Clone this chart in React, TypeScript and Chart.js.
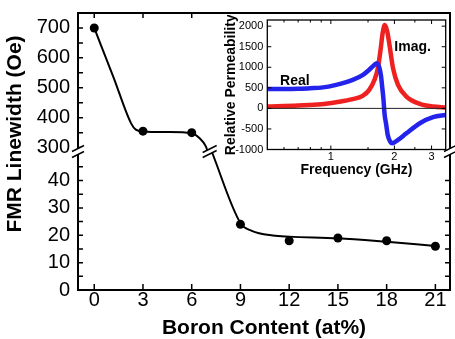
import React, { useEffect, useRef } from "react";
import { Chart, registerables } from "chart.js";

Chart.register(...registerables);

const FONT = "'Liberation Sans', Arial, Helvetica, sans-serif";

// ---- Main chart data ----
const boronContent = [0, 3, 6, 9, 12, 15, 18, 21];
const fmrLinewidth = [700, 355, 350, 24, 18, 19, 18, 16];
// fitted guide curve, upper (300-700 Oe) and lower (0-50 Oe) panels
const fitUpperX = [0, 1.18, 2.26, 2.56, 3, 4.5, 6, 6.47, 6.87, 6.98];
const fitUpperY = [700, 536, 382, 360, 354, 352, 348, 332, 304, 287];
const fitLowerX = [7.23, 9, 9.7, 11, 12, 15, 18, 21];
const fitLowerY = [50.6, 24.5, 21.6, 19.9, 19.5, 18.9, 17.6, 16.1];
const boronTicks = [0, 3, 6, 9, 12, 15, 18, 21];
const upperTicks = [300, 400, 500, 600, 700];
const lowerTicks = [0, 10, 20, 30, 40];
const upperMin = 287;
const upperMax = 750;
const lowerMin = 0;
const lowerMax = 50.6;

// ---- Inset data (relative permeability vs frequency) ----
const freqReal = [0.5, 0.6, 0.7, 0.8, 0.9, 1.06, 1.27, 1.42, 1.52, 1.61, 1.65, 1.7, 1.73, 1.75, 1.776, 1.795, 1.83, 1.86, 1.91, 1.95, 2.08, 2.28, 2.64, 3.05, 3.5];
const permReal = [470, 470, 475, 490, 505, 573, 695, 817, 939, 1061, 1100, 980, 776, 532, 207, -118, -402, -646, -809, -849, -768, -605, -361, -215, -159];
const freqImag = [0.5, 0.7, 0.9, 1.06, 1.27, 1.415, 1.52, 1.61, 1.67, 1.72, 1.76, 1.8, 1.85, 1.9, 1.97, 2.08, 2.28, 2.64, 3.05, 3.5];
const permImag = [45, 70, 100, 150, 224, 305, 451, 695, 980, 1427, 1834, 2030, 1873, 1507, 980, 573, 288, 110, 44, 20];
const freqTicks = [1, 2, 3];
const freqMinorTicks = [0.6, 0.7, 0.8, 0.9, 1.5, 2.5];
const permTicks = [-1000, -500, 0, 500, 1000, 1500, 2000];
const realLabel = { f: 0.675, v: 670, text: "Real" };
const imagLabel = { f: 2.44, v: 1488, text: "Imag." };

function breakMark(ctx: CanvasRenderingContext2D, cx: number, cy: number, halfW: number, gap: number) {
  const dx = halfW;
  const dy = -halfW * 0.5;
  const a1 = [cx - dx, cy - gap - dy];
  const a2 = [cx + dx, cy - gap + dy];
  const b1 = [cx - dx, cy + gap - dy];
  const b2 = [cx + dx, cy + gap + dy];
  ctx.save();
  ctx.fillStyle = "#fff";
  ctx.beginPath();
  ctx.moveTo(a1[0], a1[1]);
  ctx.lineTo(a2[0], a2[1]);
  ctx.lineTo(b2[0], b2[1]);
  ctx.lineTo(b1[0], b1[1]);
  ctx.closePath();
  ctx.fill();
  ctx.strokeStyle = "#000";
  ctx.lineWidth = 1.5;
  ctx.beginPath();
  ctx.moveTo(a1[0], a1[1]);
  ctx.lineTo(a2[0], a2[1]);
  ctx.moveTo(b1[0], b1[1]);
  ctx.lineTo(b2[0], b2[1]);
  ctx.stroke();
  ctx.restore();
}

const mainDecor = {
  id: "mainDecor",
  afterDraw(chart: any) {
    const ctx: CanvasRenderingContext2D = chart.ctx;
    const { left, right, top, bottom } = chart.chartArea;
    const x = chart.scales.x;
    const yU = chart.scales.yU;
    const yL = chart.scales.yL;
    ctx.save();
    ctx.strokeStyle = "#000";
    ctx.lineWidth = 2;
    ctx.beginPath();
    ctx.moveTo(left, top);
    ctx.lineTo(left, bottom);
    ctx.lineTo(right, bottom);
    ctx.lineTo(right, top);
    ctx.closePath();
    ctx.stroke();

    ctx.lineWidth = 1.5;
    ctx.beginPath();
    for (const v of boronTicks) {
      const px = x.getPixelForValue(v);
      ctx.moveTo(px, bottom);
      ctx.lineTo(px, bottom - 6);
      if (v <= 6) {
        ctx.moveTo(px, top);
        ctx.lineTo(px, top + 5);
      }
    }
    for (let v = 300; v <= 700; v += 50) {
      const py = yU.getPixelForValue(v);
      ctx.moveTo(left, py);
      ctx.lineTo(left + 5, py);
    }
    for (let v = 5; v <= 45; v += 5) {
      const py = yL.getPixelForValue(v);
      ctx.moveTo(left, py);
      ctx.lineTo(left + 5, py);
      if (py >= 178) {
        ctx.moveTo(right, py);
        ctx.lineTo(right - 5, py);
      }
    }
    ctx.stroke();

    const yBreak = yL.getPixelForValue(lowerMax);
    breakMark(ctx, left, yBreak, 6, 3);
    breakMark(ctx, right, yBreak, 6, 3);
    const xBreak = (x.getPixelForValue(fitUpperX[fitUpperX.length - 1]) + x.getPixelForValue(fitLowerX[0])) / 2;
    breakMark(ctx, xBreak, yBreak, 7, 2.5);

    ctx.translate(15, 134);
    ctx.rotate(-Math.PI / 2);
    ctx.fillStyle = "#000";
    ctx.font = `bold 21px ${FONT}`;
    ctx.textAlign = "center";
    ctx.textBaseline = "middle";
    ctx.fillText("FMR Linewidth (Oe)", 0, 0);
    ctx.restore();
  },
};

const insetDecor = {
  id: "insetDecor",
  afterDatasetsDraw(chart: any) {
    const ctx: CanvasRenderingContext2D = chart.ctx;
    const { left, right } = chart.chartArea;
    const y0 = chart.scales.y.getPixelForValue(0);
    ctx.save();
    ctx.strokeStyle = "#222";
    ctx.lineWidth = 1;
    ctx.beginPath();
    ctx.moveTo(left, y0);
    ctx.lineTo(right, y0);
    ctx.stroke();
    ctx.restore();
  },
  afterDraw(chart: any) {
    const ctx: CanvasRenderingContext2D = chart.ctx;
    const { left, right, top, bottom } = chart.chartArea;
    const x = chart.scales.x;
    const y = chart.scales.y;
    ctx.save();
    ctx.strokeStyle = "#000";
    ctx.lineWidth = 1.3;
    ctx.strokeRect(left, top, right - left, bottom - top);
    ctx.lineWidth = 1;
    ctx.beginPath();
    for (const v of permTicks) {
      const py = y.getPixelForValue(v);
      ctx.moveTo(left, py);
      ctx.lineTo(left + 4, py);
      ctx.moveTo(right, py);
      ctx.lineTo(right - 4, py);
    }
    for (const v of freqTicks) {
      const px = x.getPixelForValue(v);
      ctx.moveTo(px, bottom);
      ctx.lineTo(px, bottom - 4);
      ctx.moveTo(px, top);
      ctx.lineTo(px, top + 4);
    }
    for (const v of freqMinorTicks) {
      const px = x.getPixelForValue(v);
      ctx.moveTo(px, bottom);
      ctx.lineTo(px, bottom - 2.5);
      ctx.moveTo(px, top);
      ctx.lineTo(px, top + 2.5);
    }
    ctx.stroke();

    ctx.fillStyle = "#000";
    ctx.font = `bold 14px ${FONT}`;
    ctx.textAlign = "center";
    ctx.textBaseline = "middle";
    for (const lab of [realLabel, imagLabel]) {
      ctx.fillText(lab.text, x.getPixelForValue(lab.f), y.getPixelForValue(lab.v));
    }
    ctx.restore();
  },
};

export default function App() {
  const mainRef = useRef<HTMLCanvasElement>(null);
  const insetRef = useRef<HTMLCanvasElement>(null);

  useEffect(() => {
    Chart.defaults.font.family = FONT;
    Chart.defaults.color = "#000";

    const upperPts = boronContent
      .map((b, i) => ({ x: b, y: fmrLinewidth[i] }))
      .filter((p) => p.y >= upperMin);
    const lowerPts = boronContent
      .map((b, i) => ({ x: b, y: fmrLinewidth[i] }))
      .filter((p) => p.y <= lowerMax);
    const upperFit = fitUpperX.map((v, i) => ({ x: v, y: fitUpperY[i] }));
    const lowerFit = fitLowerX.map((v, i) => ({ x: v, y: fitLowerY[i] }));

    const pointStyle = {
      showLine: false,
      pointRadius: 4.5,
      pointBackgroundColor: "#000",
      pointBorderColor: "#000",
      pointBorderWidth: 0,
    };
    const fitStyle = {
      borderColor: "#000",
      borderWidth: 2,
      pointRadius: 0,
      cubicInterpolationMode: "monotone" as const,
      fill: false,
    };

    const yCommon = (ticks: number[]) => ({
      type: "linear" as const,
      position: "left" as const,
      stack: "y",
      stackWeight: 1,
      offset: false,
      afterBuildTicks: (s: any) => {
        s.ticks = ticks.map((v) => ({ value: v }));
      },
      ticks: {
        font: { family: FONT, size: 20 },
        color: "#000",
        padding: 8,
        autoSkip: false,
      },
      grid: { display: false, drawTicks: false },
      border: { display: false },
      afterFit: (s: any) => {
        s.width = 78;
        s.paddingTop = 0;
        s.paddingBottom = 0;
      },
    });

    const main = new Chart(mainRef.current!, {
      type: "line",
      data: {
        datasets: [
          { label: "upper points", data: upperPts, yAxisID: "yU", ...pointStyle },
          { label: "lower points", data: lowerPts, yAxisID: "yL", ...pointStyle },
          { label: "upper fit", data: upperFit, yAxisID: "yU", ...fitStyle },
          { label: "lower fit", data: lowerFit, yAxisID: "yL", ...fitStyle },
        ] as any,
      },
      options: {
        animation: false,
        responsive: false,
        maintainAspectRatio: false,
        layout: { padding: { top: 13, right: 5, left: 0, bottom: 0 } },
        plugins: { legend: { display: false }, tooltip: { enabled: false } },
        scales: {
          x: {
            type: "linear",
            min: -1,
            max: 21.9,
            afterBuildTicks: (s: any) => {
              s.ticks = boronTicks.map((v) => ({ value: v }));
            },
            ticks: {
              font: { family: FONT, size: 20, lineHeight: 1 },
              color: "#000",
              padding: 0,
              maxRotation: 0,
              autoSkip: false,
            },
            grid: { display: false, drawTicks: false },
            border: { display: false },
            title: {
              display: true,
              text: "Boron Content (at%)",
              color: "#000",
              font: { family: FONT, size: 21, weight: "bold", lineHeight: 1 },
              padding: { top: 0, bottom: 0 },
            },
            afterFit: (s: any) => {
              s.height = 49;
              s.paddingLeft = 0;
              s.paddingRight = 0;
            },
          },
          yL: { ...yCommon(lowerTicks), min: lowerMin, max: lowerMax },
          yU: { ...yCommon(upperTicks), min: upperMin, max: upperMax },
        } as any,
      },
      plugins: [mainDecor],
    });

    const realData = freqReal.map((f, i) => ({ x: f, y: permReal[i] }));
    const imagData = freqImag.map((f, i) => ({ x: f, y: permImag[i] }));

    const inset = new Chart(insetRef.current!, {
      type: "line",
      data: {
        datasets: [
          {
            label: "Real",
            data: realData,
            borderColor: "rgb(35,35,235)",
            borderWidth: 4.5,
            pointRadius: 0,
            cubicInterpolationMode: "monotone",
          },
          {
            label: "Imag.",
            data: imagData,
            borderColor: "rgb(238,32,32)",
            borderWidth: 4.5,
            pointRadius: 0,
            cubicInterpolationMode: "monotone",
          },
        ] as any,
      },
      options: {
        animation: false,
        responsive: false,
        maintainAspectRatio: false,
        layout: { padding: { top: 5, right: 4.3, left: 0, bottom: 0 } },
        plugins: { legend: { display: false }, tooltip: { enabled: false } },
        scales: {
          x: {
            type: "logarithmic",
            min: 0.5,
            max: 3.5,
            afterBuildTicks: (s: any) => {
              s.ticks = freqTicks.map((v) => ({ value: v }));
            },
            ticks: {
              callback: (v: any) => String(v),
              font: { family: FONT, size: 11, lineHeight: 1 },
              color: "#000",
              padding: 2,
              maxRotation: 0,
              autoSkip: false,
            },
            grid: { display: false, drawTicks: false },
            border: { display: false },
            title: {
              display: true,
              text: "Frequency (GHz)",
              color: "#000",
              font: { family: FONT, size: 14, weight: "bold", lineHeight: 1 },
              padding: { top: 0, bottom: 6 },
            },
            afterFit: (s: any) => {
              s.height = 33.5;
              s.paddingLeft = 0;
              s.paddingRight = 0;
            },
          },
          y: {
            type: "linear",
            min: -1000,
            max: 2150,
            afterBuildTicks: (s: any) => {
              s.ticks = permTicks.map((v) => ({ value: v }));
            },
            ticks: {
              callback: (v: any) => String(v),
              font: { family: FONT, size: 11 },
              color: "#000",
              padding: 4,
              autoSkip: false,
            },
            grid: { display: false, drawTicks: false },
            border: { display: false },
            title: {
              display: true,
              text: "Relative Permeability",
              color: "#000",
              font: { family: FONT, size: 14, weight: "bold", lineHeight: 1 },
              padding: { top: 14, bottom: 0 },
            },
            afterFit: (s: any) => {
              s.width = 57.3;
              s.paddingTop = 0;
              s.paddingBottom = 0;
            },
          },
        } as any,
      },
      plugins: [insetDecor],
    });

    return () => {
      main.destroy();
      inset.destroy();
    };
  }, []);

  return (
    <div
      style={{
        position: "fixed",
        left: 0,
        top: 0,
        width: 455,
        height: 339,
        background: "#fff",
        overflow: "hidden",
      }}
    >
      <canvas
        ref={mainRef}
        width={455}
        height={339}
        style={{ position: "absolute", left: 0, top: 0, width: 455, height: 339 }}
      />
      <canvas
        ref={insetRef}
        width={240}
        height={168}
        style={{ position: "absolute", left: 210, top: 15, width: 240, height: 168 }}
      />
    </div>
  );
}
